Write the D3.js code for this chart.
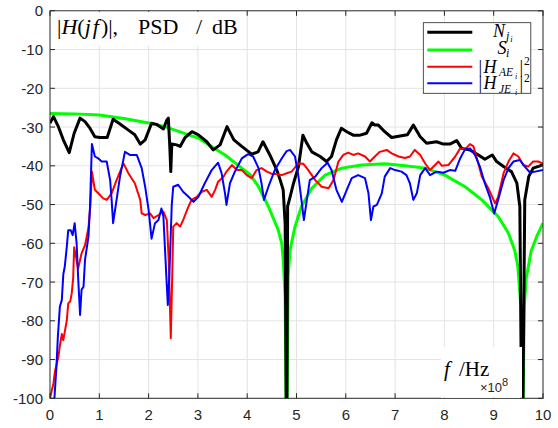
<!DOCTYPE html>
<html>
<head>
<meta charset="utf-8">
<script src="https://cdn.jsdelivr.net/npm/d3@7"></script>
<style>
  body { margin: 0; background: #fff; }
  svg { display: block; }
</style>
</head>
<body>
<svg id="chart"></svg>
<script>
// values: [frequency (x 1e8 Hz), level (dB)]
var nji = [[0,-29],[0.07,-27.3],[0.17,-29.9],[0.27,-33.3],[0.39,-36.6],[0.49,-31.6],[0.61,-27.7],[0.71,-28.6],[0.81,-30.3],[0.91,-32.5],[1.01,-32.7],[1.16,-32.7],[1.28,-28.0],[1.42,-29.2],[1.59,-30.8],[1.72,-32],[1.83,-34.4],[1.93,-33.3],[2.06,-29],[2.16,-29.3],[2.30,-30.5],[2.37,-28.2],[2.40,-27.7],[2.43,-35],[2.45,-41.5],[2.47,-34.4],[2.57,-34.6],[2.64,-35],[2.74,-32.7],[2.88,-31.2],[3.01,-32],[3.18,-33.8],[3.31,-35.9],[3.45,-34.6],[3.59,-29.9],[3.73,-33.3],[3.89,-35],[4.09,-37],[4.22,-36.4],[4.32,-33.8],[4.46,-37.2],[4.60,-41.1],[4.67,-43.7],[4.73,-46.2],[4.77,-55],[4.80,-120],[4.82,-50.5],[4.87,-48],[4.94,-44.5],[5.04,-40.2],[5.13,-32.1],[5.21,-34.2],[5.31,-36.4],[5.48,-37.6],[5.61,-38.9],[5.71,-37.6],[5.81,-33.3],[5.91,-30.3],[6.02,-31.2],[6.15,-32.1],[6.29,-32.1],[6.42,-31.6],[6.53,-28.9],[6.59,-29.5],[6.66,-29.5],[6.79,-31.2],[6.93,-32.7],[7.10,-32.3],[7.25,-32],[7.37,-29.5],[7.51,-32.5],[7.64,-34.2],[7.84,-33.8],[7.98,-34.4],[8.11,-34.4],[8.25,-33.5],[8.35,-35.5],[8.52,-35.9],[8.69,-37.2],[8.82,-38.3],[8.97,-37.2],[9.06,-38.9],[9.20,-40.2],[9.36,-41.5],[9.47,-44.5],[9.53,-50.5],[9.58,-120],[9.63,-48.8],[9.71,-42.8],[9.80,-40.6],[9.94,-40],[10,-39.6]];

var si = [[0,-26.5],[0.5,-26.6],[1.0,-26.9],[1.5,-27.8],[2.03,-29],[2.33,-29.9],[2.74,-31.7],[3.04,-33],[3.14,-33.9],[3.55,-37.2],[3.89,-40.6],[4.06,-42.3],[4.23,-45.4],[4.43,-50.5],[4.63,-56.6],[4.70,-60],[4.73,-64],[4.77,-74],[4.80,-120],[4.83,-68.6],[4.87,-61.7],[4.97,-55.7],[5.10,-50.5],[5.31,-45.8],[5.58,-42.4],[5.92,-40.6],[6.32,-39.8],[6.79,-39.5],[7.2,-40],[7.61,-40.6],[8.01,-42.4],[8.42,-45.4],[8.76,-48.8],[9.09,-53.1],[9.30,-57.4],[9.43,-62],[9.49,-66],[9.55,-76],[9.58,-120],[9.62,-76],[9.66,-69],[9.76,-62],[9.88,-58],[10,-54.8]];

var hae = [[0,-100],[0.07,-96.1],[0.1,-93.1],[0.17,-89.3],[0.2,-86.5],[0.24,-83.4],[0.27,-85],[0.30,-82.8],[0.34,-80],[0.37,-75.5],[0.41,-75],[0.44,-73],[0.47,-69],[0.49,-61],[0.52,-63],[0.57,-66.5],[0.61,-64.3],[0.64,-62.6],[0.71,-60.5],[0.78,-56],[0.82,-50],[0.85,-41.5],[0.91,-46.2],[0.98,-47.1],[1.08,-48.4],[1.15,-48.8],[1.25,-47.1],[1.35,-43.7],[1.49,-39.4],[1.59,-41.9],[1.72,-44.5],[1.83,-48.8],[1.86,-52.3],[1.93,-52.7],[2.03,-52.3],[2.10,-53.5],[2.20,-52.7],[2.30,-51.8],[2.37,-54],[2.41,-65],[2.45,-84.5],[2.48,-68],[2.50,-55.7],[2.57,-54.8],[2.64,-55.7],[2.70,-54],[2.81,-50.5],[2.87,-48.8],[2.98,-48],[3.08,-46.7],[3.18,-46.2],[3.28,-48],[3.35,-46.2],[3.41,-44.1],[3.52,-42.8],[3.58,-41.5],[3.69,-39.8],[3.79,-41.1],[3.89,-41.1],[3.99,-42.4],[4.09,-43.2],[4.19,-41.1],[4.29,-40.6],[4.40,-41.5],[4.50,-42.1],[4.60,-42.1],[4.70,-42.4],[4.83,-41.8],[4.90,-41.5],[5.04,-39.4],[5.14,-39.5],[5.24,-41.1],[5.38,-43.7],[5.51,-45.4],[5.65,-45.8],[5.75,-43.7],[5.85,-38.9],[5.95,-37.2],[6.05,-36.6],[6.15,-37.2],[6.25,-36.8],[6.39,-37.6],[6.49,-38.9],[6.59,-37.6],[6.69,-36.4],[6.83,-35.9],[6.93,-36.8],[7.07,-37.6],[7.20,-38],[7.30,-37.6],[7.40,-35.9],[7.51,-37.2],[7.61,-39.4],[7.71,-41.1],[7.81,-39.8],[7.88,-38.9],[7.95,-40],[8.08,-39.8],[8.22,-37.6],[8.32,-35.5],[8.42,-35.7],[8.52,-34.4],[8.59,-35],[8.66,-38.1],[8.76,-42.8],[8.89,-45.8],[9.03,-49.7],[9.09,-48],[9.20,-41.9],[9.30,-38.9],[9.40,-36.8],[9.50,-37.6],[9.60,-39.8],[9.70,-40.2],[9.80,-38.9],[9.90,-38.9],[10,-39.4]];

var hje = [[0.09,-100],[0.13,-92],[0.16,-84],[0.20,-76.4],[0.24,-74.6],[0.27,-68],[0.30,-66],[0.34,-61],[0.37,-56.6],[0.42,-56.6],[0.46,-57.9],[0.50,-54.8],[0.54,-60],[0.57,-68.6],[0.61,-78.5],[0.64,-72],[0.68,-71.2],[0.71,-64.3],[0.78,-58.3],[0.81,-51],[0.85,-34.4],[0.91,-37.6],[0.98,-38.1],[1.05,-38.9],[1.15,-38.9],[1.22,-43.7],[1.25,-48.8],[1.28,-54.8],[1.35,-48.8],[1.42,-42.8],[1.52,-36.4],[1.62,-37.2],[1.76,-37.2],[1.86,-40.6],[1.93,-45.4],[2.00,-51.4],[2.06,-58.8],[2.13,-54.8],[2.20,-54],[2.26,-51],[2.30,-53],[2.36,-68.6],[2.39,-75.9],[2.42,-68.6],[2.47,-50],[2.50,-45.4],[2.60,-44.9],[2.70,-46.7],[2.81,-48],[2.91,-49.3],[3.01,-48],[3.14,-44.5],[3.28,-41.1],[3.41,-39.2],[3.48,-41.9],[3.55,-47.1],[3.58,-50.1],[3.65,-44.5],[3.75,-41.5],[3.89,-38.1],[4.02,-37],[4.12,-37.6],[4.23,-40.6],[4.29,-44.5],[4.34,-48.8],[4.43,-45.4],[4.56,-41.1],[4.70,-38.1],[4.80,-36.2],[4.87,-35.9],[4.97,-37.6],[5.04,-42.8],[5.10,-48.8],[5.15,-54],[5.21,-48.8],[5.27,-43.7],[5.38,-42.8],[5.51,-40.6],[5.63,-39.2],[5.71,-41.1],[5.81,-46.2],[5.92,-49.3],[6.02,-46.2],[6.12,-43.2],[6.25,-42.4],[6.39,-43.2],[6.46,-47.1],[6.51,-54],[6.56,-50.5],[6.63,-50.1],[6.73,-47.1],[6.79,-42.8],[6.90,-40.6],[7.00,-41.1],[7.13,-41.5],[7.23,-42.4],[7.30,-44.5],[7.37,-48.8],[7.44,-47.1],[7.51,-42.4],[7.61,-40.6],[7.71,-42.4],[7.84,-41.5],[7.98,-41.8],[8.11,-41.1],[8.22,-41.3],[8.32,-38.1],[8.42,-35.7],[8.52,-35.5],[8.62,-37.2],[8.72,-40.2],[8.82,-44.5],[8.92,-48],[9.01,-52.3],[9.09,-48.8],[9.20,-43.7],[9.30,-40.6],[9.40,-38.9],[9.53,-38.5],[9.63,-40.2],[9.74,-41.8],[9.84,-41.5],[10,-41.1]];

var xTicks = [0,1,2,3,4,5,6,7,8,9,10];
var yTicks = [0,-10,-20,-30,-40,-50,-60,-70,-80,-90,-100];

var width = 558, height = 428;
var pLeft = 50, pRight = 543, pTop = 10.8, pBottom = 398.3;
var axisColor = "#262626";
var serif = "'Liberation Serif', 'Times New Roman', serif";
var sans = "'Liberation Sans', Arial, Helvetica, sans-serif";

var svg = d3.select("#chart").attr("width", width).attr("height", height);

var x = d3.scaleLinear().domain([0, 10]).range([pLeft, pRight]);
var y = d3.scaleLinear().domain([-100, 0]).range([pBottom, pTop]);

svg.append("defs").append("clipPath").attr("id", "plotclip")
    .append("rect").attr("x", pLeft).attr("y", pTop)
    .attr("width", pRight - pLeft).attr("height", pBottom - pTop);

//grid lines
var grid = svg.append("g");
grid.selectAll(".vx").data(xTicks.slice(1, -1)).enter().append("line")
    .attr("x1", d => x(d)).attr("x2", d => x(d))
    .attr("y1", pTop).attr("y2", pBottom)
    .attr("stroke", "#e3e3e3").attr("stroke-width", 1);
grid.selectAll(".hy").data(yTicks.slice(1, -1)).enter().append("line")
    .attr("x1", pLeft).attr("x2", pRight)
    .attr("y1", d => y(d)).attr("y2", d => y(d))
    .attr("stroke", "#e3e3e3").attr("stroke-width", 1);

//curves (legend order kept, green drawn first so the black nulls stay on top)
var line = d3.line().x(d => x(d[0])).y(d => y(d[1]));
var series = [
    {data: nji, color: "#000000", w: 3},
    {data: si, color: "#00ff00", w: 3},
    {data: hae, color: "#ff0000", w: 2},
    {data: hje, color: "#0000ff", w: 2}
];
var plot = svg.append("g").attr("clip-path", "url(#plotclip)");
[1, 0, 2, 3].forEach(function (k) {
    var s = series[k];
    plot.append("path").datum(s.data)
        .attr("d", line)
        .attr("fill", "none")
        .attr("stroke", s.color)
        .attr("stroke-width", s.w)
        .attr("stroke-linejoin", "round");
});

//axes box with inward ticks
var axes = svg.append("g");
axes.append("rect").attr("x", pLeft).attr("y", pTop)
    .attr("width", pRight - pLeft).attr("height", pBottom - pTop)
    .attr("fill", "none").attr("stroke", axisColor).attr("stroke-width", 1);
var tl = 5;
xTicks.forEach(function (t) {
    axes.append("line").attr("x1", x(t)).attr("x2", x(t)).attr("y1", pBottom).attr("y2", pBottom - tl)
        .attr("stroke", axisColor);
    axes.append("line").attr("x1", x(t)).attr("x2", x(t)).attr("y1", pTop).attr("y2", pTop + tl)
        .attr("stroke", axisColor);
    axes.append("text").attr("x", x(t)).attr("y", pBottom + 22)
        .attr("text-anchor", "middle").attr("font-family", sans).attr("font-size", 15)
        .attr("fill", axisColor).text(t);
});
yTicks.forEach(function (t) {
    axes.append("line").attr("x1", pLeft).attr("x2", pLeft + tl).attr("y1", y(t)).attr("y2", y(t))
        .attr("stroke", axisColor);
    axes.append("line").attr("x1", pRight).attr("x2", pRight - tl).attr("y1", y(t)).attr("y2", y(t))
        .attr("stroke", axisColor);
    axes.append("text").attr("x", pLeft - 7).attr("y", y(t) + 5.5)
        .attr("text-anchor", "end").attr("font-family", sans).attr("font-size", 15)
        .attr("fill", axisColor).text(t);
});

//y label box in the upper left
svg.append("rect").attr("x", pLeft + 1).attr("y", pTop + 1).attr("width", 195).attr("height", 34).attr("fill", "#fff");
var ttl = svg.append("text").attr("y", 34).attr("font-family", serif).attr("font-size", 22).attr("fill", "#000");
ttl.append("tspan").attr("x", 57).text("|");
ttl.append("tspan").attr("font-style", "italic").text("H");
ttl.append("tspan").text("(");
ttl.append("tspan").attr("font-style", "italic").text("j");
ttl.append("tspan").attr("font-style", "italic").attr("dx", 2).text("f");
ttl.append("tspan").attr("dx", 2).text(")|,");
ttl.append("tspan").attr("x", 138).text("PSD");
ttl.append("tspan").attr("x", 196).text("/");
ttl.append("tspan").attr("x", 212).text("dB");

//x label box at the lower right
svg.append("rect").attr("x", 441).attr("y", 347).attr("width", 81).attr("height", pBottom - 347 - 0.5).attr("fill", "#fff");
var xl = svg.append("text").attr("y", 376).attr("font-family", serif).attr("font-size", 21).attr("fill", "#000");
xl.append("tspan").attr("x", 444).attr("font-style", "italic").text("f");
xl.append("tspan").attr("x", 459).text("/Hz");
var ex = svg.append("text").attr("x", 480).attr("y", 392).attr("font-family", sans).attr("font-size", 13).attr("fill", axisColor);
ex.append("tspan").text("\u00d710");
ex.append("tspan").attr("dy", -6).attr("font-size", 11).text("8");

//legend
var legX = 423.3, legY = 22.7, legW = 107.5, legH = 70.6;
var lg = svg.append("g");
lg.append("rect").attr("x", legX).attr("y", legY).attr("width", legW).attr("height", legH)
    .attr("fill", "#fff").attr("stroke", axisColor).attr("stroke-width", 0.8);
var rows = [32.3, 50, 66.7, 83.3];
series.forEach(function (s, i) {
    lg.append("line").attr("x1", 427.3).attr("x2", 472.3).attr("y1", rows[i]).attr("y2", rows[i])
        .attr("stroke", s.color).attr("stroke-width", s.w);
});

var l0 = lg.append("text").attr("font-family", serif).attr("font-style", "italic").attr("font-size", 18);
l0.append("tspan").attr("x", 493).attr("y", rows[0] + 4.4).text("N");
l0.append("tspan").attr("x", 506).attr("y", rows[0] + 7.4).attr("font-size", 12).text("j");
l0.append("tspan").attr("x", 510.3).attr("y", rows[0] + 10).attr("font-size", 8.5).text("i");

var l1 = lg.append("text").attr("font-family", serif).attr("font-style", "italic").attr("font-size", 18);
l1.append("tspan").attr("x", 497.5).attr("y", rows[1] + 4.3).text("S");
l1.append("tspan").attr("x", 506).attr("y", rows[1] + 7.3).attr("font-size", 12).text("i");

[["AE", 2], ["JE", 3]].forEach(function (p) {
    var b = rows[p[1]] + 5.8;
    var t = lg.append("text").attr("font-family", serif).attr("font-size", 18);
    t.append("tspan").attr("x", 478.5).attr("y", b).text("|");
    t.append("tspan").attr("x", 483.5).attr("y", b).attr("font-style", "italic").text("H");
    t.append("tspan").attr("x", 499).attr("y", b + 3.5).attr("font-style", "italic").attr("font-size", 11.5).text(p[0]);
    t.append("tspan").attr("x", 515).attr("y", b + 6.3).attr("font-style", "italic").attr("font-size", 8).text("i");
    t.append("tspan").attr("x", 519.5).attr("y", b).text("|");
    t.append("tspan").attr("x", 524).attr("y", b - 7.5).attr("font-size", 11.5).text("2");
});
</script>
</body>
</html>
